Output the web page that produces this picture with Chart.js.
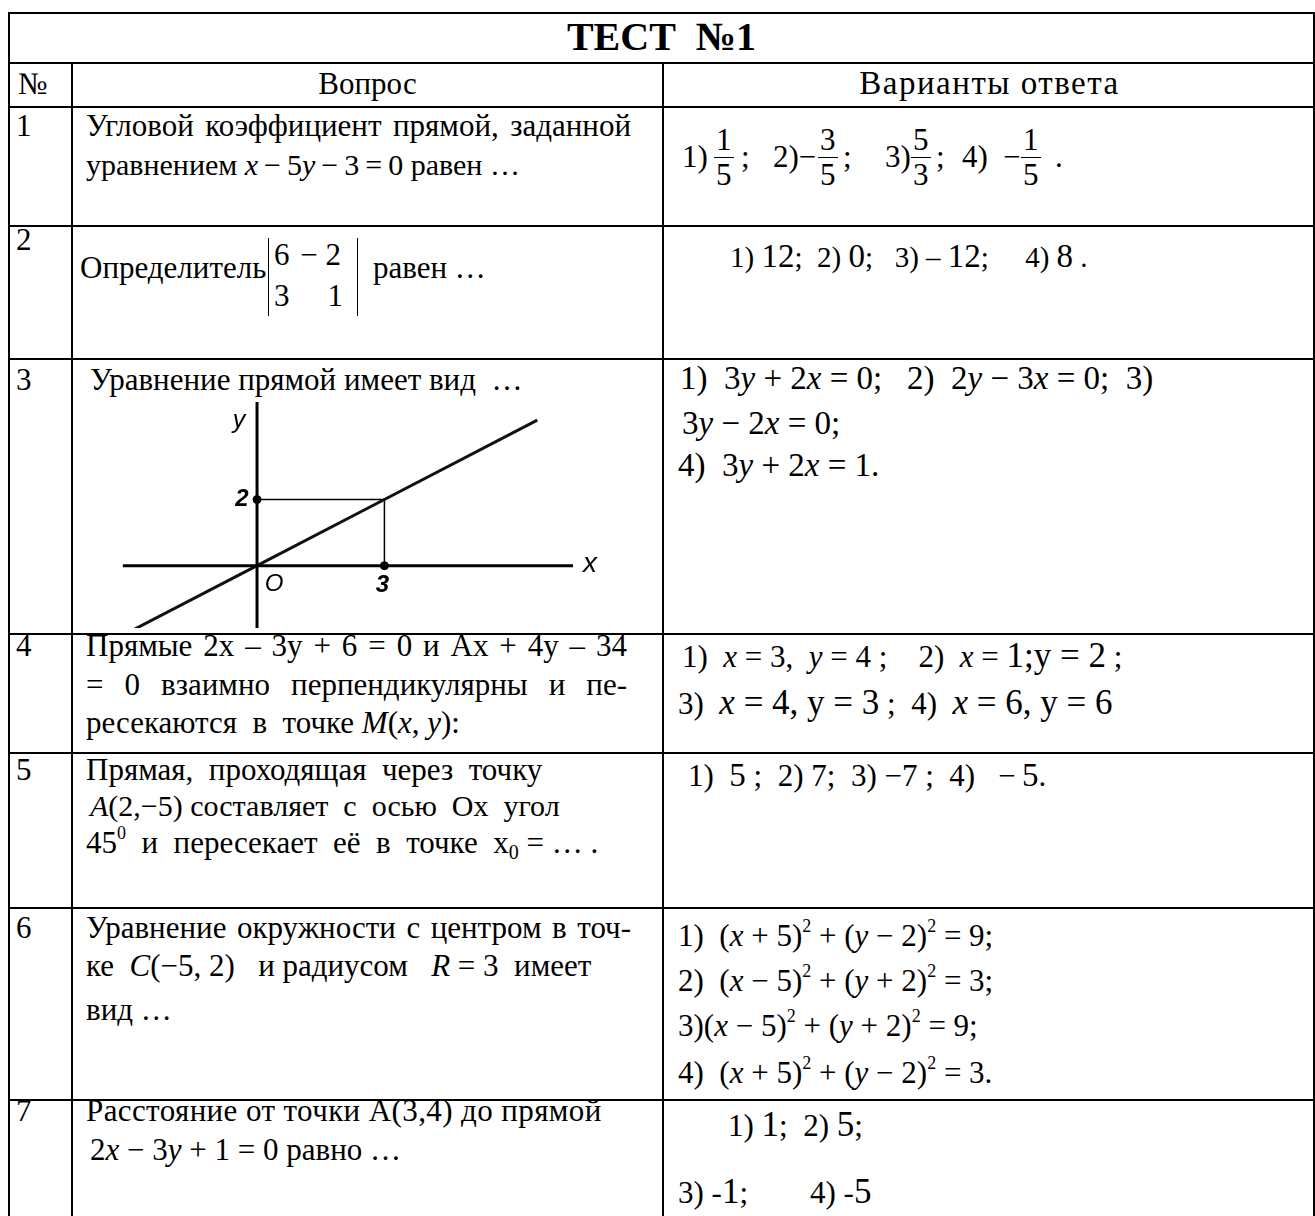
<!DOCTYPE html>
<html>
<head>
<meta charset="utf-8">
<script src="https://cdn.jsdelivr.net/npm/chart.js"></script>
<style>
body { margin: 0; background: #fff; }
#page { position: relative; width: 1315px; height: 1216px; overflow: hidden; font-family: "Liberation Serif", "Times New Roman", serif; color: #000; }
.hl { position: absolute; left: 8px; width: 1307px; height: 2px; background: #000; z-index: 2; }
.vl { position: absolute; width: 2px; background: #000; z-index: 2; }
.t { position: absolute; white-space: pre; font-size: 31px; line-height: 36px; }
.j { white-space: normal; text-align: justify; text-align-last: justify; }
.num { left: 16px; }
.q { left: 86px; }
.big { font-size: 35px; }
.m { font-size: 33px; }
.fr { position: absolute; top: 123px; display: flex; flex-direction: column; align-items: center; font-size: 31px; line-height: 34px; }
.fr .b { width: 100%; border-top: 1.5px solid #000; padding: 0 2px; box-sizing: content-box; }
.det { position: absolute; left: 268px; top: 238px; width: 88px; height: 78px; border-left: 1.5px solid #000; border-right: 1.5px solid #000; }
.det span { position: absolute; font-size: 31px; line-height: 36px; white-space: pre; }
.a2 { font-size: 29px; }
.a2 b { font-weight: normal; font-size: 33px; }
sup { font-size: 18px; vertical-align: 0; position: relative; top: -14px; }
sub { font-size: 20px; vertical-align: 0; position: relative; top: 6px; }
#graph { position: absolute; left: 100px; top: 392px; z-index: 1; }
</style>
</head>
<body>
<div id="page">
  <!-- table rules -->
  <div class="hl" style="top:12px"></div>
  <div class="hl" style="top:62px"></div>
  <div class="hl" style="top:106px"></div>
  <div class="hl" style="top:225px"></div>
  <div class="hl" style="top:358px"></div>
  <div class="hl" style="top:633px"></div>
  <div class="hl" style="top:752px"></div>
  <div class="hl" style="top:907px"></div>
  <div class="hl" style="top:1099px"></div>
  <div class="vl" style="left:8px;top:12px;height:1204px"></div>
  <div class="vl" style="left:1313px;top:12px;height:1204px"></div>
  <div class="vl" style="left:71px;top:62px;height:1154px"></div>
  <div class="vl" style="left:662px;top:62px;height:1154px"></div>

  <!-- title and header -->
  <div class="t" style="left:8px;width:1307px;top:12px;line-height:50px;font-size:40px;font-weight:bold;text-align:center">ТЕСТ  №1</div>
  <div class="t" style="left:18px;top:66px">№</div>
  <div class="t" style="left:73px;width:589px;top:66px;text-align:center">Вопрос</div>
  <div class="t" style="left:664px;width:651px;top:65px;text-align:center;font-size:33px;letter-spacing:1.5px">Варианты ответа</div>

  <!-- 1 -->
  <div class="t num" style="top:108px">1</div>
  <div class="t q j" style="top:108px;width:545px">Угловой коэффициент прямой, заданной</div>
  <div class="t q" style="top:147px;font-size:30px">уравнением <i>x</i>&#8201;−&#8201;5<i>y</i>&#8201;−&#8201;3&#8201;=&#8201;0 равен …</div>
  <div class="t" style="left:682px;top:140px;line-height:34px">1)</div>
  <div class="fr" style="left:716px"><span>1</span><span class="b"></span><span>5</span></div>
  <div class="t" style="left:741px;top:140px;line-height:34px">;</div>
  <div class="t" style="left:773px;top:140px;line-height:34px">2)−</div>
  <div class="fr" style="left:820px"><span>3</span><span class="b"></span><span>5</span></div>
  <div class="t" style="left:843px;top:140px;line-height:34px">;</div>
  <div class="t" style="left:885px;top:140px;line-height:34px">3)</div>
  <div class="fr" style="left:913px"><span>5</span><span class="b"></span><span>3</span></div>
  <div class="t" style="left:936px;top:140px;line-height:34px">;</div>
  <div class="t" style="left:962px;top:140px;line-height:34px">4)  −</div>
  <div class="fr" style="left:1023px"><span>1</span><span class="b"></span><span>5</span></div>
  <div class="t" style="left:1055px;top:140px;line-height:34px">.</div>

  <!-- 2 -->
  <div class="t num" style="top:222px">2</div>
  <div class="t" style="left:80px;top:250px">Определитель</div>
  <div class="det">
    <span style="left:5px;top:-1px">6</span><span style="right:16px;top:-1px">− 2</span>
    <span style="left:5px;top:40px">3</span><span style="right:14px;top:40px">1</span>
  </div>
  <div class="t" style="left:373px;top:250px">равен …</div>
  <div class="t a2" style="left:730px;top:238px">1) <b>12</b>;  2) <b>0</b>;   3) – <b>12</b>;     4) <b>8</b> .</div>

  <!-- 3 -->
  <div class="t num" style="top:362px">3</div>
  <div class="t q" style="left:90px;top:362px">Уравнение прямой имеет вид  …</div>
  <div class="t m" style="left:680px;top:360px">1)  3<i>y</i> + 2<i>x</i> = 0;   2)  2<i>y</i> − 3<i>x</i> = 0;  3)</div>
  <div class="t m" style="left:682px;top:405px">3<i>y</i> − 2<i>x</i> = 0;</div>
  <div class="t m" style="left:678px;top:447px">4)  3<i>y</i> + 2<i>x</i> = 1.</div>
  <canvas id="graph" width="520" height="241"></canvas>

  <!-- 4 -->
  <div class="t num" style="top:628px">4</div>
  <div class="t q j" style="top:628px;width:541px">Прямые  2x – 3y + 6 = 0  и  Ax + 4y – 34</div>
  <div class="t q j" style="top:667px;width:541px">= 0  взаимно  перпендикулярны  и  пе-</div>
  <div class="t q" style="top:705px">ресекаются  в  точке <i>M</i>(<i>x</i>, <i>y</i>):</div>
  <div class="t" style="left:682px;top:638px">1)  <i>x</i> = 3,  <i>y</i> = 4 ;    2)  <i>x</i> = <span class="big">1;y = 2</span> ;</div>
  <div class="t" style="left:678px;top:685px">3)  <span class="big"><i>x</i> = 4, y = 3</span> ;  4)  <span class="big"><i>x</i> = 6, y = 6</span></div>

  <!-- 5 -->
  <div class="t num" style="top:752px">5</div>
  <div class="t q" style="top:752px">Прямая,  проходящая  через  точку</div>
  <div class="t q" style="left:90px;top:788px;font-size:30px"><i>A</i>(2,−5) составляет  с  осью  Ox  угол</div>
  <div class="t q" style="top:825px">45<sup>0</sup>  и  пересекает  её  в  точке  x<sub>0</sub> = … .</div>
  <div class="t" style="left:688px;top:757px">1)  <span class="m">5</span> ;  2) 7;  3) −7 ;  4)   −&#8201;<span class="m">5</span>.</div>

  <!-- 6 -->
  <div class="t num" style="top:910px">6</div>
  <div class="t q j" style="top:910px;width:545px">Уравнение окружности с центром в точ-</div>
  <div class="t q" style="top:948px">ке  <i>C</i>(−5, 2)   и радиусом   <i>R</i> = 3  имеет</div>
  <div class="t q" style="top:992px">вид …</div>
  <div class="t" style="left:678px;top:918px">1)  (<i>x</i> + 5)<sup>2</sup> + (<i>y</i> − 2)<sup>2</sup> = 9;</div>
  <div class="t" style="left:678px;top:963px">2)  (<i>x</i> − 5)<sup>2</sup> + (<i>y</i> + 2)<sup>2</sup> = 3;</div>
  <div class="t" style="left:678px;top:1008px">3)(<i>x</i> − 5)<sup>2</sup> + (<i>y</i> + 2)<sup>2</sup> = 9;</div>
  <div class="t" style="left:678px;top:1055px">4)  (<i>x</i> + 5)<sup>2</sup> + (<i>y</i> − 2)<sup>2</sup> = 3.</div>

  <!-- 7 -->
  <div class="t num" style="top:1093px">7</div>
  <div class="t q" style="top:1093px;letter-spacing:0.4px">Расстояние от точки A(3,4) до прямой</div>
  <div class="t q" style="left:90px;top:1132px">2<i>x</i> − 3<i>y</i> + 1 = 0 равно …</div>
  <div class="t" style="left:728px;top:1107px">1) <span class="big">1</span>;  2) <span class="big">5</span>;</div>
  <div class="t" style="left:678px;top:1174px">3) -<span class="big">1</span>;        4) -<span class="big">5</span></div>
</div>

<script>
// graph of question 3, values in axis units
var lineXs = [-2.9, 0, 3, 6.6];
var lineYs = [-1.93, 0, 2, 4.4];
var guideXs = [0, 3, 3];
var guideYs = [2, 2, 0];
var axisXSpan = [-3.16, 7.44];
var axisYSpan = [-1.95, 4.95];
var markedXs = [0, 3];
var markedYs = [2, 0];
var axisLabels = ['y', '2', 'O', '3', 'x'];
var labelXs = [0, 0, 0, 3, 7.44];
var labelYs = [4.38, 2, 0, 0, 0];

function toPoints(xs, ys) {
    return xs.map(function (v, i) { return { x: v, y: ys[i] }; });
}

var axisLetters = {
    id: 'axisLetters',
    afterDatasetsDraw: function (chart) {
        var ctx = chart.ctx;
        var sx = chart.scales.x;
        var sy = chart.scales.y;
        // pixel nudges so letters sit beside the axes
        var shifts = [[-18, 0], [-15, 0], [17, 19], [-2, 20], [17, -1]];
        var fonts = ['italic 25px', 'italic bold 24px', 'italic 24px', 'italic bold 24px', 'italic 28px'];
        ctx.save();
        ctx.fillStyle = '#000';
        ctx.textAlign = 'center';
        ctx.textBaseline = 'middle';
        axisLabels.forEach(function (txt, i) {
            ctx.font = fonts[i] + ' "Liberation Sans", Arial, sans-serif';
            ctx.fillText(txt, sx.getPixelForValue(labelXs[i]) + shifts[i][0], sy.getPixelForValue(labelYs[i]) + shifts[i][1]);
        });
        ctx.restore();
    }
};

function renderGraph() {
    var ctx = document.getElementById('graph');
    new Chart(ctx, {
        type: 'scatter',
        data: {
            datasets: [
                { data: toPoints(axisXSpan, [0, 0]), showLine: true, borderColor: '#000', borderWidth: 3, pointRadius: 0 },
                { data: toPoints([0, 0], axisYSpan), showLine: true, borderColor: '#000', borderWidth: 3, pointRadius: 0 },
                { data: toPoints(lineXs, lineYs), showLine: true, borderColor: '#111', borderWidth: 3, pointRadius: 0 },
                { data: toPoints(guideXs, guideYs), showLine: true, borderColor: '#000', borderWidth: 1.5, pointRadius: 0 },
                { data: toPoints(markedXs, markedYs), showLine: false, pointRadius: 4, backgroundColor: '#000', borderColor: '#000' }
            ]
        },
        options: {
            responsive: false,
            animation: false,
            events: [],
            layout: { padding: 0 },
            scales: {
                x: { type: 'linear', display: false, min: -3.58, max: 8.43 },
                y: { type: 'linear', display: false, min: -1.884, max: 5.10 }
            },
            plugins: { legend: { display: false }, tooltip: { enabled: false } }
        },
        plugins: [axisLetters]
    });
}

renderGraph();
</script>
</body>
</html>
